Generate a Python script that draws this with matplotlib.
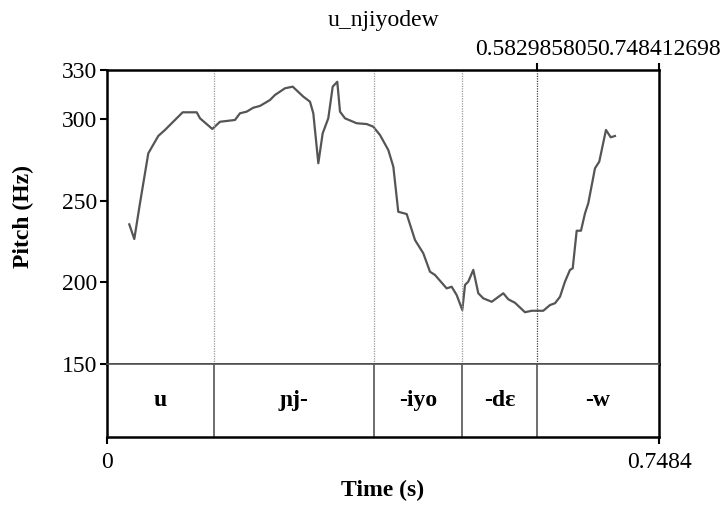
import matplotlib
matplotlib.use("Agg")
import matplotlib.pyplot as plt

# pitch track (time in s, F0 in Hz)
times = [0.0302, 0.0370, 0.0447, 0.0560, 0.0695, 0.0786, 0.1026, 0.1216, 0.1261,
         0.1428, 0.1532, 0.1735, 0.1803, 0.1894, 0.1983, 0.2074, 0.2209, 0.2277,
         0.2413, 0.2518, 0.2661, 0.2752, 0.2797, 0.2865, 0.2924, 0.3000, 0.3060,
         0.3122, 0.3159, 0.3227, 0.3385, 0.3521, 0.3610, 0.3701, 0.3814, 0.3882,
         0.3949, 0.4063, 0.4176, 0.4288, 0.4379, 0.4447, 0.4605, 0.4673, 0.4741,
         0.4817, 0.4854, 0.4898, 0.4966, 0.5034, 0.5102, 0.5216, 0.5373, 0.5441,
         0.5531, 0.5667, 0.5758, 0.5915, 0.6006, 0.6074, 0.6142, 0.6209, 0.6277,
         0.6314, 0.6368, 0.6426, 0.6481, 0.6525, 0.6616, 0.6674, 0.6765, 0.6829,
         0.6887]
pitch = [235.5, 226.5, 248.4, 279.0, 289.6, 293.3, 304.1, 304.1, 300.4,
         293.9, 298.3, 299.4, 303.5, 304.5, 306.9, 308.0, 311.6, 314.7,
         318.8, 319.8, 313.7, 310.6, 303.5, 272.9, 291.2, 300.4, 319.8,
         322.8, 304.5, 300.4, 297.4, 296.9, 295.3, 290.2, 281.0, 270.8,
         243.2, 241.8, 225.9, 217.8, 206.5, 204.5, 196.3, 197.3, 192.2,
         183.1, 198.4, 200.4, 207.6, 193.3, 190.2, 188.1, 193.3, 189.6,
         187.5, 181.7, 182.6, 182.6, 186.1, 187.2, 191.2, 200.4, 207.6,
         208.6, 231.6, 231.6, 242.3, 248.4, 269.8, 273.9, 293.3, 288.8,
         289.6]

# interval tier
bounds = [0.0, 0.145, 0.362, 0.481, 0.582985805, 0.748412698]
syllables = ["u", "ɲj-", "-iyo", "-dɛ", "-w"]

y_ticks = [150, 200, 250, 300, 330]
t_end = 0.748412698

plt.rcParams["font.family"] = ["Liberation Serif", "DejaVu Serif"]

fig = plt.figure(figsize=(7.23, 5.05), dpi=100)
ax = fig.add_axes([0.148, 0.2792, 0.7635, 0.5822])
tier = fig.add_axes([0.148, 0.1347, 0.7635, 0.1446])

ax.plot(times, pitch, color="#555555", lw=1.6)
ax.set_xlim(0, t_end)
ax.set_ylim(150, 330)

# dotted boundary lines through the pitch area
for b in bounds[1:-1]:
    c = "#444444" if b > 0.5 else "#999999"
    ax.axvline(b, color=c, lw=0.9, ls=(0, (1, 1)))

ax.set_yticks(y_ticks)
ax.set_yticklabels([str(v) for v in y_ticks], fontsize=17)
ax.tick_params(axis="y", direction="out", length=5, width=1.5, pad=2)
ax.xaxis.tick_top()
ax.set_xticks([bounds[4], t_end])
ax.set_xticklabels(["0.582985805", "0.748412698"], fontsize=17)
ax.tick_params(axis="x", direction="out", length=5, width=1.5, pad=2)
for s in ax.spines.values():
    s.set_linewidth(1.8)
ax.set_ylabel("Pitch (Hz)", fontsize=17, fontweight="bold", labelpad=20)
ax.set_title("u_njiyodew", fontsize=17, pad=32)

# tier boxes and labels
tier.set_xlim(0, t_end)
tier.set_ylim(0, 1)
for b in bounds[1:-1]:
    tier.axvline(b, color="#555555", lw=1.2)
for i, lab in enumerate(syllables):
    mid = (bounds[i] + bounds[i + 1]) / 2
    tier.text(mid, 0.5, lab, ha="center", va="center", fontsize=17, fontweight="bold")
tier.set_yticks([])
tier.set_xticks([0, t_end])
tier.set_xticklabels(["0", "0.7484"], fontsize=17)
tier.tick_params(axis="x", direction="out", length=5, width=1.5, pad=6)
for s in tier.spines.values():
    s.set_linewidth(1.8)
tier.spines["top"].set_linewidth(1.2)
tier.spines["top"].set_color("#555555")
tier.set_xlabel("Time (s)", fontsize=17, fontweight="bold", labelpad=5)

fig.savefig("out.png", dpi=100)
